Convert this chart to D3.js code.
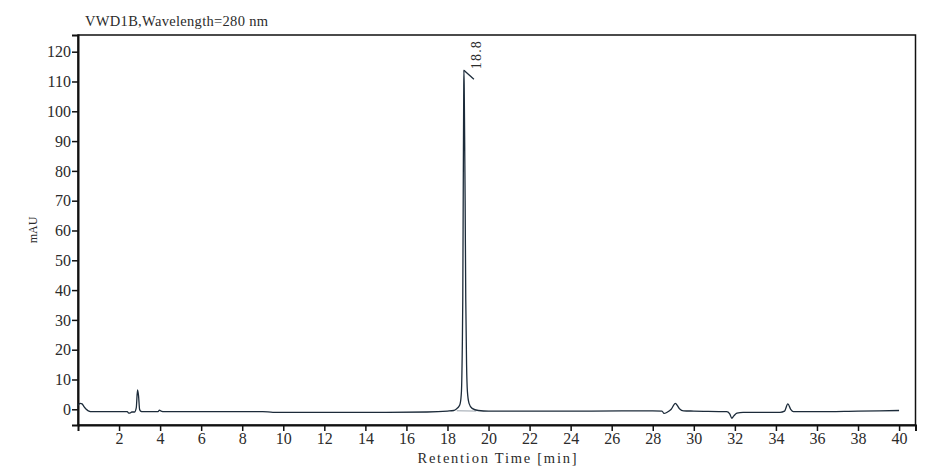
<!DOCTYPE html>
<html>
<head>
<meta charset="utf-8">
<script src="https://cdn.jsdelivr.net/npm/d3@7/dist/d3.min.js"></script>
<style>
  html, body { margin: 0; padding: 0; background: #ffffff; }
  svg { display: block; }
</style>
</head>
<body>
<svg id="chart" width="947" height="474"></svg>
<script>
// ---- data ----
const titleText = "VWD1B,Wavelength=280 nm";
const xAxisTitle = "Retention Time [min]";
const yAxisTitle = "mAU";
const xTickValues = [2,4,6,8,10,12,14,16,18,20,22,24,26,28,30,32,34,36,38,40];
const yTickValues = [0,10,20,30,40,50,60,70,80,90,100,110,120];

// retention time (min)
const rtTime = [
  0.0, 0.1, 0.2, 0.3, 0.4, 0.5, 0.7, 1.5, 2.4, 2.47, 2.55, 2.62, 2.75, 2.84, 2.9, 2.95, 3.0, 3.05, 3.15,
  3.9, 3.97, 4.05, 4.2, 9.0, 9.5, 12.0, 15.0, 17.0, 18.0, 18.3, 18.45, 18.55, 18.62, 18.68,
  18.72, 18.745, 18.77, 18.79, 18.80, 18.815, 18.835, 18.86, 18.89, 18.93, 18.97, 19.05, 19.2,
  19.5, 20.0, 25.0, 28.0, 28.45, 28.55, 28.7, 28.9, 29.1, 29.3, 29.5, 30.0, 31.6, 31.75, 31.85,
  31.95, 32.1, 32.4, 34.2, 34.42, 34.58, 34.72, 34.85, 36.0, 38.0, 40.0
];
// detector signal (mAU)
const signal = [
  1.3, 2.0, 1.8, 0.8, 0.0, -0.5, -0.8, -0.8, -0.8, -1.3, -1.2, -0.9, -0.9, 0.6, 6.5, 4.5, 0.0, -0.6, -0.8,
  -0.8, -0.3, -0.6, -0.8, -0.8, -1.0, -1.0, -1.0, -0.9, -0.6, -0.4, 0.2, 0.9, 2.0, 6.0,
  20.0, 37.0, 77.0, 105.0, 113.8, 108.0, 92.0, 70.0, 37.0, 15.0, 6.0, 2.0, 0.3,
  -0.4, -0.6, -0.6, -0.5, -0.6, -1.4, -1.0, 0.0, 2.0, 0.2, -0.5, -0.6, -0.8, -1.5, -3.0,
  -2.2, -1.3, -1.0, -1.0, -0.6, 1.8, 0.0, -0.8, -0.8, -0.6, -0.4
];
// integration baseline under the main peak [start, end] (min) and level (mAU)
const baselineTimes = [18.45, 19.4];
const baselineLevels = [-0.5, -0.6];
// peak label
const peakTimes = [18.8];
const peakHeights = [113.8];
const peakLabels = ["18.8"];

(function () {
  const svg = d3.select("#chart");
  const mLeft = 78, mRight = 915.5, mTop = 35, mBottom = 425;
  const serif = "'Liberation Serif', 'DejaVu Serif', serif";

  const x = d3.scaleLinear().domain([0, 40.8]).range([mLeft, mRight]);
  const y = d3.scaleLinear().domain([-5.27, 125.6]).range([mBottom, mTop]);

  const textColor = "#2b2b2b";
  const lineColor = "#1c2b3a";

  // frame (top & right)
  svg.append("rect")
    .attr("x", mLeft).attr("y", mTop)
    .attr("width", mRight - mLeft).attr("height", mBottom - mTop)
    .attr("fill", "none").attr("stroke", "#111").attr("stroke-width", 1.5);

  // axes
  const xAxis = d3.axisBottom(x).tickValues(xTickValues).tickSize(6).tickPadding(2).tickFormat(d3.format("d"));
  const yAxis = d3.axisLeft(y).tickValues(yTickValues).tickSize(6).tickPadding(1).tickFormat(d3.format("d"));

  const gx = svg.append("g").attr("transform", `translate(0,${mBottom})`).call(xAxis);
  const gy = svg.append("g").attr("transform", `translate(${mLeft},0)`).call(yAxis);

  [gx, gy].forEach(g => {
    g.attr("font-family", serif).attr("font-size", 16);
    g.select(".domain").attr("stroke", "#111").attr("stroke-width", 2);
    g.selectAll(".tick line").attr("stroke", "#111").attr("stroke-width", 1.5);
    g.selectAll(".tick text")
      .attr("fill", textColor)
      .attr("font-family", serif)
      .attr("font-size", 16);
  });

  // integration baseline
  svg.append("line")
    .attr("x1", x(baselineTimes[0])).attr("x2", x(baselineTimes[1]))
    .attr("y1", y(baselineLevels[0])).attr("y2", y(baselineLevels[1]))
    .attr("stroke", "#9aa3ad").attr("stroke-width", 1);

  // trace
  const pts = rtTime.map((t, i) => [t, signal[i]]);
  const line = d3.line().x(d => x(d[0])).y(d => y(d[1])).curve(d3.curveMonotoneX);
  svg.append("path")
    .attr("d", line(pts))
    .attr("fill", "none")
    .attr("stroke", lineColor)
    .attr("stroke-width", 1.3)
    .attr("stroke-linejoin", "round");

  // peak labels
  peakTimes.forEach((t, i) => {
    const px = x(t), py = y(peakHeights[i]);
    svg.append("line")
      .attr("x1", px).attr("y1", py)
      .attr("x2", px + 10).attr("y2", py + 9)
      .attr("stroke", lineColor).attr("stroke-width", 1.3);
    svg.append("text")
      .attr("transform", `translate(${px + 17},${py - 1}) rotate(-90)`)
      .attr("fill", textColor)
      .attr("font-family", serif)
      .attr("font-size", 14)
      .attr("textLength", 28)
      .attr("lengthAdjust", "spacing")
      .text(peakLabels[i]);
  });

  // titles
  svg.append("text")
    .attr("x", 85).attr("y", 26)
    .attr("fill", textColor)
    .attr("font-family", serif)
    .attr("font-size", 14.5)
    .attr("textLength", 183)
    .attr("lengthAdjust", "spacing")
    .text(titleText);

  svg.append("text")
    .attr("x", 497).attr("y", 463)
    .attr("text-anchor", "middle")
    .attr("fill", textColor)
    .attr("font-family", serif)
    .attr("font-size", 14.5)
    .attr("textLength", 159)
    .attr("lengthAdjust", "spacing")
    .text(xAxisTitle);

  svg.append("text")
    .attr("transform", `translate(37,230) rotate(-90)`)
    .attr("text-anchor", "middle")
    .attr("fill", textColor)
    .attr("font-family", serif)
    .attr("font-size", 12)
    .text(yAxisTitle);
})();
</script>
</body>
</html>
